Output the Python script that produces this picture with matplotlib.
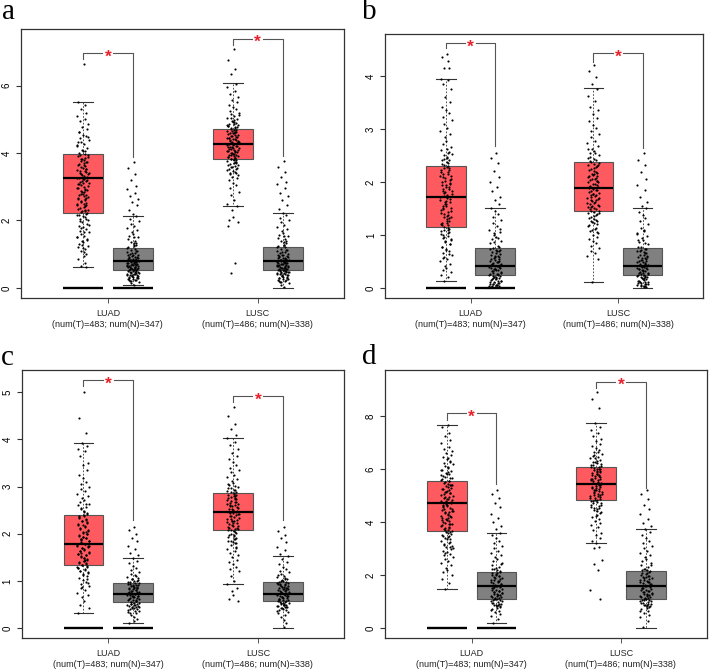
import matplotlib
matplotlib.use('Agg')
import matplotlib.pyplot as plt

plt.rcParams['font.family'] = ['Liberation Sans', 'DejaVu Sans']

W, H = 709, 672

groups = ['LUAD\n(num(T)=483; num(N)=347)', 'LUSC\n(num(T)=486; num(N)=338)']
positions = [1, 2, 4, 5]

# box stats, one row per box: whislo, q1, med, q3, whishi
a_stats = [[0.62, 2.23, 3.27, 3.97, 5.52], [0.10, 0.52, 0.80, 1.18, 2.14],
           [2.42, 3.82, 4.28, 4.70, 6.07], [0.00, 0.52, 0.80, 1.22, 2.22]]
b_stats = [[0.14, 1.15, 1.72, 2.30, 3.95], [0.00, 0.25, 0.42, 0.75, 1.50],
           [0.11, 1.45, 1.88, 2.37, 3.77], [0.00, 0.25, 0.42, 0.75, 1.50]]
c_stats = [[0.33, 1.33, 1.78, 2.40, 3.92], [0.10, 0.55, 0.73, 0.95, 1.48],
           [0.93, 2.07, 2.45, 2.87, 4.03], [0.00, 0.57, 0.73, 0.97, 1.53]]
d_stats = [[1.47, 3.65, 4.70, 5.55, 7.65], [0.20, 1.10, 1.60, 2.10, 3.60],
           [3.20, 4.83, 5.45, 6.07, 7.72], [0.00, 1.10, 1.60, 2.15, 3.75]]

# points
a_luad_t = [6.65, 5.5, 5.42, 5.3, 5.2, 5.1, 5.02, 4.95, 4.85, 4.78, 4.7, 4.62, 4.55, 4.5, 4.44, 4.38, 4.32, 4.26, 4.2, 4.15,
            4.1, 4.05, 4.0, 3.95, 3.9, 3.86, 3.82, 3.78, 3.74, 3.7, 3.66, 3.62, 3.58, 3.54, 3.5, 3.46, 3.42, 3.38, 3.34, 3.3,
            3.26, 3.22, 3.18, 3.14, 3.1, 3.05, 3.0, 2.95, 2.9, 2.85, 2.8, 2.75, 2.7, 2.65, 2.6, 2.55, 2.5, 2.45, 2.4, 2.35,
            2.3, 2.25, 2.2, 2.15, 2.1, 2.05, 2.0, 1.95, 1.9, 1.85, 1.8, 1.75, 1.7, 1.65, 1.6, 1.55, 1.5, 1.45, 1.4, 1.35,
            1.3, 1.25, 1.2, 1.15, 1.1, 1.05, 1.0, 0.95, 0.85, 0.75, 0.66, 0.62,
            4.23, 4.07, 3.93, 3.88, 3.81, 3.72, 3.68, 3.57, 3.53, 3.47, 3.41, 3.37, 3.31, 3.27, 3.21, 3.16, 3.12, 3.07, 3.03, 2.97,
            2.93, 2.87, 2.83, 2.77, 2.72, 2.68, 2.63, 2.57, 2.52, 2.47, 2.43, 2.37, 2.32, 2.27, 2.23, 2.17, 2.12, 2.03, 1.97, 1.87,
            1.78, 1.67, 1.52, 1.43, 1.27, 1.17, 4.63, 4.47, 4.34, 3.96, 3.76, 3.64, 3.44, 3.23, 3.09, 2.91, 2.79, 2.66, 2.48, 2.29]
a_luad_n = [3.72, 3.55, 3.38, 3.2, 3.02, 2.92, 2.82, 2.72, 2.65, 2.55, 2.45, 2.3, 2.2, 2.12, 2.05, 1.98, 1.9, 1.84, 1.78, 1.72,
            1.66, 1.6, 1.55, 1.5, 1.45, 1.4, 1.36, 1.32, 1.28, 1.24, 1.2, 1.16, 1.13, 1.1, 1.07, 1.04, 1.01, 0.98, 0.95, 0.92,
            0.9, 0.87, 0.85, 0.82, 0.8, 0.78, 0.76, 0.74, 0.72, 0.7, 0.68, 0.66, 0.64, 0.62, 0.6, 0.58, 0.56, 0.54, 0.52, 0.5,
            0.48, 0.46, 0.44, 0.42, 0.4, 0.38, 0.36, 0.34, 0.32, 0.3, 0.27, 0.24, 0.21, 0.18, 0.14, 0.1,
            1.17, 1.09, 1.03, 0.97, 0.93, 0.89, 0.86, 0.83, 0.81, 0.79, 0.77, 0.75, 0.73, 0.71, 0.69, 0.67, 0.65, 0.63, 0.61, 0.59,
            0.57, 0.55, 0.53, 0.51, 0.49, 0.47, 0.45, 0.43, 0.41, 0.39, 0.37, 0.35, 0.33, 0.31, 0.29, 0.26, 0.23, 0.2, 1.52, 1.34,
            1.26, 0.99, 0.91, 0.84, 0.77, 0.69, 0.61, 0.55, 0.47, 0.38, 0.3, 0.22]
a_lusc_t = [7.1, 6.75, 6.5, 6.35, 6.05, 5.95, 5.85, 5.75, 5.65, 5.58, 5.5, 5.44, 5.38, 5.32, 5.26, 5.2, 5.15, 5.1, 5.05, 5.0,
            4.95, 4.91, 4.87, 4.83, 4.79, 4.75, 4.71, 4.67, 4.63, 4.6, 4.56, 4.53, 4.5, 4.47, 4.44, 4.41, 4.38, 4.35, 4.32, 4.29,
            4.26, 4.23, 4.2, 4.17, 4.14, 4.11, 4.08, 4.05, 4.02, 3.99, 3.96, 3.93, 3.9, 3.87, 3.84, 3.81, 3.78, 3.74, 3.7, 3.66,
            3.62, 3.58, 3.54, 3.5, 3.45, 3.4, 3.35, 3.3, 3.25, 3.2, 3.12, 3.05, 2.95, 2.85, 2.75, 2.62, 2.5, 2.42, 2.3, 2.1, 2.0, 1.95, 1.85, 0.75, 0.45,
            4.93, 4.89, 4.85, 4.81, 4.77, 4.73, 4.69, 4.65, 4.61, 4.58, 4.55, 4.51, 4.48, 4.45, 4.42, 4.39, 4.36, 4.33, 4.3, 4.27,
            4.24, 4.21, 4.18, 4.15, 4.12, 4.09, 4.06, 4.03, 4.0, 3.97, 3.94, 3.91, 3.88, 3.85, 3.82, 3.79, 3.76, 3.72, 3.68, 3.64,
            3.6, 3.56, 3.52, 3.47, 3.42, 3.37, 5.12, 5.03, 4.98, 4.84, 4.76, 4.66, 4.59, 4.46, 4.34, 4.19, 4.07, 3.95, 3.83, 3.71]
a_lusc_n = [3.75, 3.6, 3.45, 3.3, 3.15, 3.08, 2.95, 2.82, 2.72, 2.6, 2.45, 2.35, 2.22, 2.15, 2.08, 2.0, 1.94, 1.88, 1.82, 1.76,
            1.7, 1.64, 1.58, 1.53, 1.48, 1.44, 1.4, 1.36, 1.32, 1.28, 1.24, 1.2, 1.16, 1.13, 1.1, 1.07, 1.04, 1.01, 0.98, 0.95,
            0.92, 0.9, 0.87, 0.84, 0.82, 0.8, 0.78, 0.76, 0.74, 0.72, 0.7, 0.68, 0.66, 0.64, 0.62, 0.6, 0.58, 0.56, 0.54, 0.52,
            0.5, 0.48, 0.46, 0.44, 0.42, 0.4, 0.37, 0.34, 0.31, 0.28, 0.25, 0.22, 0.18, 0.14, 0.1, 0.02,
            1.21, 1.12, 1.05, 0.99, 0.94, 0.91, 0.88, 0.85, 0.83, 0.81, 0.79, 0.77, 0.75, 0.73, 0.71, 0.69, 0.67, 0.65, 0.63, 0.61,
            0.59, 0.57, 0.55, 0.53, 0.51, 0.49, 0.47, 0.45, 0.43, 0.41, 0.39, 0.36, 0.33, 0.3, 0.27, 0.24, 0.2, 0.16, 1.55, 1.38,
            1.27, 0.97, 0.89, 0.83, 0.74, 0.66, 0.6, 0.52, 0.46, 0.38, 0.29, 0.21]

b_luad_t = [4.42, 4.35, 4.28, 4.15, 4.14, 3.95, 3.92, 3.85, 3.75, 3.6, 3.5, 3.42, 3.35, 3.3, 3.22, 3.16, 3.1, 3.02, 2.97, 2.9,
            2.84, 2.78, 2.72, 2.66, 2.6, 2.55, 2.5, 2.46, 2.42, 2.38, 2.34, 2.3, 2.26, 2.22, 2.18, 2.14, 2.1, 2.06, 2.02, 1.98,
            1.94, 1.9, 1.86, 1.82, 1.78, 1.74, 1.7, 1.66, 1.62, 1.58, 1.54, 1.5, 1.46, 1.42, 1.38, 1.34, 1.3, 1.26, 1.22, 1.18,
            1.14, 1.1, 1.06, 1.02, 0.98, 0.94, 0.9, 0.86, 0.82, 0.78, 0.74, 0.7, 0.66, 0.62, 0.58, 0.54, 0.5, 0.46, 0.42, 0.38,
            0.34, 0.3, 0.25, 0.2, 0.14,
            2.63, 2.57, 2.47, 2.41, 2.36, 2.31, 2.27, 2.23, 2.19, 2.15, 2.11, 2.07, 2.03, 1.99, 1.95, 1.91, 1.87, 1.83, 1.79, 1.75,
            1.71, 1.67, 1.63, 1.59, 1.55, 1.51, 1.47, 1.43, 1.39, 1.35, 1.31, 1.27, 1.23, 1.19, 1.15, 1.11, 1.07, 1.03, 0.99, 0.93,
            0.88, 0.83, 0.77, 0.71, 0.64, 0.56, 2.52, 2.44, 2.29, 2.12, 1.96, 1.81, 1.64, 1.48, 1.33, 1.21, 1.09, 0.96]
b_luad_n = [2.55, 2.45, 2.35, 2.2, 2.1, 2.0, 1.9, 1.82, 1.72, 1.65, 1.58, 1.5, 1.45, 1.4, 1.34, 1.28, 1.22, 1.16, 1.1, 1.05,
            1.0, 0.96, 0.92, 0.88, 0.84, 0.8, 0.76, 0.72, 0.69, 0.66, 0.63, 0.6, 0.57, 0.54, 0.51, 0.48, 0.46, 0.44, 0.42, 0.4,
            0.38, 0.36, 0.34, 0.32, 0.3, 0.28, 0.26, 0.24, 0.22, 0.2, 0.18, 0.16, 0.14, 0.12, 0.1, 0.08, 0.06, 0.04, 0.02, 0.01,
            0.94, 0.86, 0.78, 0.74, 0.7, 0.67, 0.64, 0.61, 0.58, 0.55, 0.52, 0.49, 0.47, 0.45, 0.43, 0.41, 0.39, 0.37, 0.35, 0.33,
            0.31, 0.29, 0.27, 0.25, 0.23, 0.21, 0.19, 0.17, 0.15, 0.13, 0.11, 0.09, 0.07, 0.05, 0.03, 0.71, 0.59, 0.5, 0.44, 0.36,
            0.27, 0.19, 0.13, 0.08, 0.05, 0.03, 1.12, 1.03]
b_lusc_t = [4.2, 4.1, 3.98, 3.85, 3.75, 3.62, 3.52, 3.42, 3.35, 3.28, 3.2, 3.14, 3.08, 3.02, 2.96, 2.9, 2.84, 2.78, 2.73, 2.68,
            2.63, 2.58, 2.54, 2.5, 2.46, 2.42, 2.38, 2.34, 2.3, 2.26, 2.22, 2.18, 2.15, 2.12, 2.09, 2.06, 2.03, 2.0, 1.97, 1.94,
            1.91, 1.88, 1.85, 1.82, 1.79, 1.76, 1.73, 1.7, 1.67, 1.64, 1.61, 1.58, 1.55, 1.52, 1.49, 1.46, 1.43, 1.4, 1.36, 1.32,
            1.28, 1.24, 1.2, 1.16, 1.12, 1.08, 1.04, 1.0, 0.96, 0.92, 0.88, 0.84, 0.8, 0.76, 0.7, 0.65, 0.6, 0.55, 0.11,
            2.44, 2.4, 2.36, 2.32, 2.28, 2.24, 2.2, 2.17, 2.14, 2.11, 2.08, 2.05, 2.02, 1.99, 1.96, 1.93, 1.9, 1.87, 1.84, 1.81,
            1.78, 1.75, 1.72, 1.69, 1.66, 1.63, 1.6, 1.57, 1.54, 1.51, 1.48, 1.45, 1.42, 1.38, 1.34, 1.3, 1.26, 1.22, 1.18, 1.14,
            1.1, 1.06, 2.62, 2.55, 2.47, 2.31, 2.13, 2.01, 1.89, 1.77, 1.65, 1.53, 1.41, 1.27]
b_lusc_n = [2.55, 2.42, 2.32, 2.18, 2.05, 1.95, 1.85, 1.72, 1.62, 1.55, 1.5, 1.44, 1.38, 1.32, 1.26, 1.2, 1.14, 1.08, 1.03, 0.98,
            0.94, 0.9, 0.86, 0.82, 0.78, 0.74, 0.71, 0.68, 0.65, 0.62, 0.59, 0.56, 0.53, 0.5, 0.48, 0.46, 0.44, 0.42, 0.4, 0.38,
            0.36, 0.34, 0.32, 0.3, 0.28, 0.26, 0.24, 0.22, 0.2, 0.18, 0.16, 0.14, 0.12, 0.1, 0.08, 0.06, 0.04, 0.02, 0.01,
            0.91, 0.84, 0.77, 0.73, 0.69, 0.66, 0.63, 0.6, 0.57, 0.54, 0.51, 0.49, 0.47, 0.45, 0.43, 0.41, 0.39, 0.37, 0.35, 0.33,
            0.31, 0.29, 0.27, 0.25, 0.23, 0.21, 0.19, 0.17, 0.15, 0.13, 0.11, 0.09, 0.07, 0.05, 0.03, 0.7, 0.58, 0.52, 0.44, 0.36,
            0.28, 0.2, 0.12, 0.07, 0.04, 1.1, 1.01]

c_luad_t = [5.0, 4.46, 4.13, 3.92, 3.85, 3.8, 3.75, 3.65, 3.5, 3.45, 3.35, 3.25, 3.18, 3.1, 3.05, 3.0, 2.95, 2.9, 2.85, 2.8,
            2.76, 2.72, 2.68, 2.64, 2.6, 2.56, 2.52, 2.48, 2.44, 2.4, 2.36, 2.32, 2.28, 2.24, 2.2, 2.16, 2.12, 2.08, 2.04, 2.0,
            1.97, 1.94, 1.91, 1.88, 1.85, 1.82, 1.79, 1.76, 1.73, 1.7, 1.67, 1.64, 1.61, 1.58, 1.55, 1.52, 1.49, 1.46, 1.43, 1.4,
            1.37, 1.34, 1.31, 1.28, 1.25, 1.22, 1.18, 1.14, 1.1, 1.06, 1.02, 0.98, 0.94, 0.9, 0.85, 0.8, 0.75, 0.7, 0.65, 0.58, 0.5, 0.42, 0.33,
            2.62, 2.54, 2.46, 2.42, 2.38, 2.34, 2.3, 2.26, 2.22, 2.18, 2.14, 2.1, 2.06, 2.02, 1.99, 1.96, 1.93, 1.9, 1.87, 1.84,
            1.81, 1.78, 1.75, 1.72, 1.69, 1.66, 1.63, 1.6, 1.57, 1.54, 1.51, 1.48, 1.45, 1.42, 1.39, 1.36, 1.33, 1.3, 1.27, 1.24,
            1.2, 1.16, 1.12, 1.04, 2.37, 2.19, 2.03, 1.89, 1.74, 1.59, 1.44, 1.29, 0.96, 0.88]
c_luad_n = [2.15, 2.08, 2.0, 1.92, 1.85, 1.75, 1.68, 1.6, 1.55, 1.48, 1.42, 1.37, 1.32, 1.27, 1.23, 1.19, 1.15, 1.12, 1.09, 1.06,
            1.03, 1.0, 0.98, 0.96, 0.94, 0.92, 0.9, 0.88, 0.86, 0.84, 0.82, 0.8, 0.78, 0.76, 0.74, 0.72, 0.7, 0.68, 0.66, 0.64,
            0.62, 0.6, 0.58, 0.56, 0.54, 0.52, 0.5, 0.48, 0.46, 0.44, 0.42, 0.4, 0.37, 0.34, 0.31, 0.28, 0.24, 0.2, 0.15, 0.1,
            1.1, 1.04, 0.99, 0.97, 0.95, 0.93, 0.91, 0.89, 0.87, 0.85, 0.83, 0.81, 0.79, 0.77, 0.75, 0.73, 0.71, 0.69, 0.67, 0.65,
            0.63, 0.61, 0.59, 0.57, 0.55, 0.53, 0.51, 0.49, 0.47, 0.45, 0.43, 0.41, 0.39, 0.36, 0.33, 1.01, 0.92, 0.84, 0.76, 0.68, 0.6, 0.52, 0.44]
c_lusc_t = [4.68, 4.5, 4.33, 4.22, 4.1, 4.03, 3.95, 3.88, 3.8, 3.72, 3.65, 3.58, 3.52, 3.46, 3.4, 3.35, 3.3, 3.25, 3.2, 3.16,
            3.12, 3.08, 3.04, 3.0, 2.96, 2.92, 2.88, 2.85, 2.82, 2.79, 2.76, 2.73, 2.7, 2.67, 2.64, 2.61, 2.58, 2.55, 2.52, 2.49,
            2.46, 2.43, 2.4, 2.37, 2.34, 2.31, 2.28, 2.25, 2.22, 2.19, 2.16, 2.13, 2.1, 2.07, 2.04, 2.0, 1.96, 1.92, 1.88, 1.84,
            1.8, 1.76, 1.72, 1.68, 1.64, 1.6, 1.55, 1.5, 1.45, 1.4, 1.35, 1.3, 1.25, 1.2, 1.1, 1.0, 0.93, 0.85, 0.78, 0.7, 0.62, 0.57,
            3.06, 3.01, 2.97, 2.93, 2.89, 2.86, 2.83, 2.8, 2.77, 2.74, 2.71, 2.68, 2.65, 2.62, 2.59, 2.56, 2.53, 2.5, 2.47, 2.44,
            2.41, 2.38, 2.35, 2.32, 2.29, 2.26, 2.23, 2.2, 2.17, 2.14, 2.11, 2.08, 2.05, 2.01, 1.97, 1.93, 1.89, 1.85, 1.81, 2.9,
            2.75, 2.6, 2.42, 2.27, 2.12, 1.98, 1.83, 1.7]
c_lusc_n = [2.15, 2.05, 1.98, 1.9, 1.82, 1.72, 1.65, 1.58, 1.53, 1.46, 1.4, 1.35, 1.3, 1.26, 1.22, 1.18, 1.14, 1.11, 1.08, 1.05,
            1.02, 0.99, 0.97, 0.95, 0.93, 0.91, 0.89, 0.87, 0.85, 0.83, 0.81, 0.79, 0.77, 0.75, 0.73, 0.71, 0.69, 0.67, 0.65, 0.63,
            0.61, 0.59, 0.57, 0.55, 0.53, 0.51, 0.49, 0.47, 0.45, 0.43, 0.41, 0.38, 0.35, 0.32, 0.28, 0.24, 0.18, 0.1, 0.02,
            1.12, 1.06, 1.0, 0.98, 0.96, 0.94, 0.92, 0.9, 0.88, 0.86, 0.84, 0.82, 0.8, 0.78, 0.76, 0.74, 0.72, 0.7, 0.68, 0.66,
            0.64, 0.62, 0.6, 0.58, 0.56, 0.54, 0.52, 0.5, 0.48, 0.46, 0.44, 0.42, 0.39, 0.36, 1.03, 0.93, 0.83, 0.75, 0.67, 0.59, 0.53, 0.45]

d_luad_t = [7.65, 7.6, 7.35, 7.25, 7.1, 7.0, 6.85, 6.75, 6.68, 6.6, 6.52, 6.45, 6.38, 6.3, 6.24, 6.18, 6.12, 6.05, 5.98, 5.92,
            5.86, 5.8, 5.74, 5.68, 5.62, 5.56, 5.5, 5.44, 5.38, 5.32, 5.26, 5.2, 5.14, 5.08, 5.02, 4.96, 4.9, 4.84, 4.78, 4.72,
            4.66, 4.6, 4.54, 4.48, 4.42, 4.36, 4.3, 4.24, 4.18, 4.12, 4.06, 4.0, 3.94, 3.88, 3.82, 3.76, 3.7, 3.64, 3.58, 3.52,
            3.46, 3.4, 3.34, 3.28, 3.22, 3.16, 3.1, 3.04, 2.98, 2.92, 2.86, 2.8, 2.74, 2.68, 2.6, 2.52, 2.44, 2.36, 2.28, 2.2, 2.1, 2.0, 1.85, 1.7, 1.47,
            6.42, 6.27, 6.08, 5.95, 5.83, 5.71, 5.65, 5.59, 5.53, 5.47, 5.41, 5.35, 5.29, 5.23, 5.17, 5.11, 5.05, 4.99, 4.93, 4.87,
            4.81, 4.75, 4.69, 4.63, 4.57, 4.51, 4.45, 4.39, 4.33, 4.27, 4.21, 4.15, 4.09, 4.03, 3.97, 3.91, 3.85, 3.79, 3.73, 3.67,
            3.61, 3.55, 3.49, 3.37, 3.25, 3.13, 3.01, 2.83, 5.9, 5.77, 5.39, 5.12, 4.88, 4.62, 4.41, 4.17, 3.93, 3.69, 3.43, 3.07]
d_luad_n = [5.2, 5.05, 4.9, 4.72, 4.55, 4.3, 4.15, 4.0, 3.85, 3.75, 3.6, 3.5, 3.4, 3.3, 3.2, 3.1, 3.0, 2.92, 2.84, 2.76,
            2.68, 2.6, 2.52, 2.45, 2.38, 2.31, 2.24, 2.18, 2.12, 2.06, 2.0, 1.95, 1.9, 1.85, 1.8, 1.75, 1.7, 1.65, 1.6, 1.55,
            1.5, 1.45, 1.4, 1.36, 1.32, 1.28, 1.24, 1.2, 1.16, 1.12, 1.08, 1.04, 1.0, 0.96, 0.92, 0.88, 0.84, 0.8, 0.75, 0.7, 0.65, 0.6, 0.52, 0.44, 0.35, 0.2,
            2.41, 2.27, 2.15, 2.09, 2.03, 1.97, 1.92, 1.87, 1.82, 1.77, 1.72, 1.67, 1.62, 1.57, 1.52, 1.47, 1.43, 1.38, 1.34, 1.3,
            1.26, 1.22, 1.18, 1.14, 1.1, 1.06, 1.02, 0.98, 0.94, 0.9, 0.86, 0.82, 2.21, 1.99, 1.76, 1.53, 1.31, 1.09, 0.87, 0.67]
d_lusc_t = [8.9, 8.65, 8.3, 7.72, 7.6, 7.48, 7.35, 7.25, 7.15, 7.05, 6.95, 6.88, 6.8, 6.72, 6.65, 6.58, 6.52, 6.46, 6.4, 6.34,
            6.28, 6.22, 6.17, 6.12, 6.07, 6.02, 5.97, 5.92, 5.87, 5.82, 5.77, 5.72, 5.67, 5.62, 5.57, 5.52, 5.47, 5.42, 5.37, 5.32,
            5.27, 5.22, 5.17, 5.12, 5.07, 5.02, 4.97, 4.92, 4.87, 4.82, 4.76, 4.7, 4.64, 4.58, 4.52, 4.46, 4.4, 4.34, 4.28, 4.2,
            4.12, 4.04, 3.96, 3.88, 3.8, 3.7, 3.6, 3.5, 3.4, 3.3, 3.2, 3.05, 3.03, 2.55, 2.43, 2.2, 1.45, 1.1,
            6.43, 6.31, 6.25, 6.19, 6.14, 6.09, 6.04, 5.99, 5.94, 5.89, 5.84, 5.79, 5.74, 5.69, 5.64, 5.59, 5.54, 5.49, 5.44, 5.39,
            5.34, 5.29, 5.24, 5.19, 5.14, 5.09, 5.04, 4.99, 4.94, 4.89, 4.84, 4.78, 4.72, 4.66, 4.6, 4.54, 4.48, 6.01, 5.81, 5.61,
            5.41, 5.21, 5.01, 4.81, 6.66, 6.5, 4.37, 4.23]
d_lusc_n = [5.2, 5.05, 4.85, 4.65, 4.5, 4.3, 4.1, 3.95, 3.85, 3.75, 3.62, 3.5, 3.4, 3.3, 3.2, 3.1, 3.0, 2.92, 2.84, 2.76,
            2.68, 2.6, 2.52, 2.45, 2.38, 2.31, 2.24, 2.18, 2.12, 2.06, 2.0, 1.95, 1.9, 1.85, 1.8, 1.75, 1.7, 1.65, 1.6, 1.55,
            1.5, 1.45, 1.4, 1.36, 1.32, 1.28, 1.24, 1.2, 1.16, 1.12, 1.08, 1.04, 1.0, 0.96, 0.92, 0.88, 0.84, 0.8, 0.75, 0.7, 0.65, 0.58, 0.5, 0.4, 0.25, 0.02,
            2.36, 2.22, 2.14, 2.08, 2.02, 1.97, 1.92, 1.87, 1.82, 1.77, 1.72, 1.67, 1.62, 1.57, 1.52, 1.47, 1.42, 1.38, 1.34, 1.3,
            1.26, 1.22, 1.18, 1.14, 1.1, 1.06, 1.02, 0.98, 0.94, 0.9, 0.86, 0.82, 2.17, 1.94, 1.73, 1.49, 1.27, 1.05, 0.85, 0.63]

# bracket heights: top, left leg end, right leg end (one row per cancer)
a_brackets = [[6.97, 6.80, 3.88], [7.39, 7.20, 3.92]]
b_brackets = [[4.62, 4.53, 2.68], [4.43, 4.27, 2.64]]
c_brackets = [[5.25, 5.13, 2.29], [4.92, 4.79, 2.29]]
d_brackets = [[8.10, 7.85, 5.43], [9.30, 9.05, 5.30]]

# horizontal spread of the dots around each box centre
jitter = [0.02, -0.09, 0.05, -0.03, 0.07, -0.11, 0.04, -0.06, 0.1, -0.01, 0.08, -0.08, 0.0, 0.06, -0.05, 0.12, -0.04,
          0.03, -0.12, 0.09, -0.02, 0.01, -0.07, 0.11, -0.1, 0.05, -0.04, 0.02, 0.07]


def panel(letter, rect, ylim, yticks, stats, points, brackets, letter_xy):
    left, right, top, bottom = rect
    ax = plt.gcf().add_axes([left / W, 1 - bottom / H, (right - left) / W, (bottom - top) / H])

    for i, pos in enumerate(positions):
        s = stats[i]
        st = dict(whislo=s[0], q1=s[1], med=s[2], q3=s[3], whishi=s[4], fliers=[])
        color = '#ff5a5f' if i % 2 == 0 else '#808080'
        ax.bxp([st], positions=[pos], widths=0.8, capwidths=0.4, patch_artist=True, showfliers=False,
               manage_ticks=False, boxprops=dict(facecolor=color, edgecolor='#555555', linewidth=0.8),
               medianprops=dict(color='black', linewidth=1.6),
               whiskerprops=dict(color='#333333', linewidth=0.6, linestyle=(0, (2, 2))),
               capprops=dict(color='#333333', linewidth=0.8))
        xs = [pos + jitter[j % len(jitter)] for j in range(len(points[i]))]
        ax.scatter(xs, points[i], s=2.4, color='black', linewidths=0, zorder=4)

    # thick bars at zero under the LUAD boxes
    ax.hlines([0, 0], [0.6, 1.6], [1.4, 2.4], color='black', linewidth=1.7, zorder=3)

    for k, b in enumerate(brackets):
        x1 = positions[2 * k]
        x2 = positions[2 * k + 1]
        mid = (x1 + x2) / 2
        ax.plot([x1, x1, mid - 0.11], [b[1], b[0], b[0]], color='#555555', linewidth=0.8)
        ax.plot([mid + 0.11, x2, x2], [b[0], b[0], b[2]], color='#555555', linewidth=0.8)
        ax.annotate('*', (mid, b[0]), xytext=(0, -2.8), textcoords='offset points', ha='center', va='center',
                    color='#e8202a', fontsize=12.5, fontweight='bold')

    ax.set_xlim(-0.24, 6.23)
    ax.set_ylim(*ylim)
    ax.set_xticks([1.5, 4.5])
    ax.set_xticklabels(groups, fontsize=6.5, linespacing=1.25, color='#222222')
    ax.set_yticks(yticks)
    ax.set_yticklabels([str(t) for t in yticks], rotation=90, va='center', fontsize=7)
    ax.tick_params(axis='y', length=3.6, width=0.8, pad=3, color='#333333')
    ax.tick_params(axis='x', length=3.6, width=0.7, pad=4.5, color='#555555')
    for sp in ax.spines.values():
        sp.set_linewidth(0.9)
        sp.set_color('#333333')
    plt.gcf().text(letter_xy[0] / W, 1 - letter_xy[1] / H, letter, family='Liberation Serif', fontsize=21, va='baseline')


fig = plt.figure(figsize=(W / 100, H / 100), dpi=100)

panel('a', (21, 344, 29, 298), (-0.30, 7.68), [0, 2, 4, 6], a_stats,
      [a_luad_t, a_luad_n, a_lusc_t, a_lusc_n], a_brackets, (2, 19))
panel('b', (385, 703, 33.5, 298), (-0.19, 4.80), [0, 1, 2, 3, 4], b_stats,
      [b_luad_t, b_luad_n, b_lusc_t, b_lusc_n], b_brackets, (362, 19))
panel('c', (21.7, 344, 370, 638), (-0.21, 5.47), [0, 1, 2, 3, 4, 5], c_stats,
      [c_luad_t, c_luad_n, c_lusc_t, c_lusc_n], c_brackets, (1, 365))
panel('d', (385, 707, 370, 638), (-0.38, 9.74), [0, 2, 4, 6, 8], d_stats,
      [d_luad_t, d_luad_n, d_lusc_t, d_lusc_n], d_brackets, (362, 364))

fig.savefig('out.png', dpi=100)
